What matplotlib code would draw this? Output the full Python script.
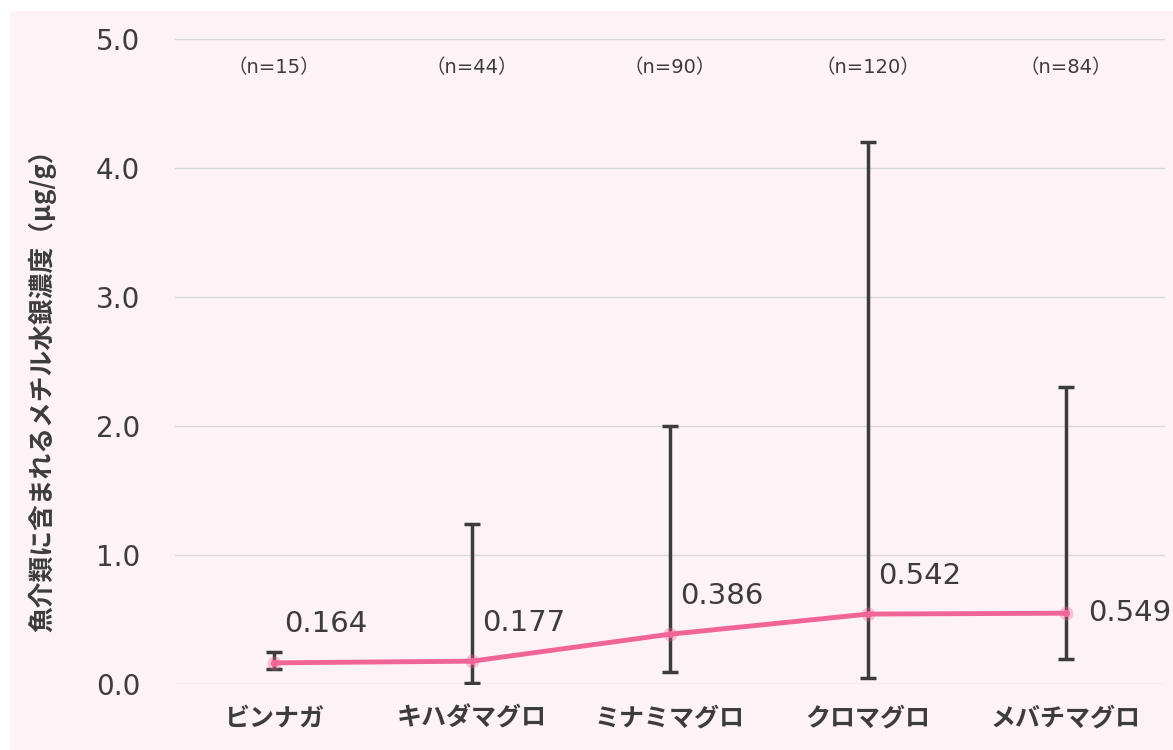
import matplotlib
matplotlib.use('agg')
import matplotlib.pyplot as plt
from matplotlib.patches import Rectangle

plt.rcParams['font.family'] = ['Noto Sans CJK JP', 'DejaVu Sans']

# data
fish = ['ビンナガ', 'キハダマグロ', 'ミナミマグロ', 'クロマグロ', 'メバチマグロ']
means = [0.164, 0.177, 0.386, 0.542, 0.549]
lows = [0.12, 0.01, 0.09, 0.05, 0.19]
highs = [0.25, 1.24, 2.0, 4.2, 2.3]
counts = ['（n=15）', '（n=44）', '（n=90）', '（n=120）', '（n=84）']
yticks = [0.0, 1.0, 2.0, 3.0, 4.0, 5.0]

bg = '#fdf2f5'
pink = '#f06496'
dark = '#3c3c3c'
num_font = ['DejaVu Sans', 'Noto Sans CJK JP']

fig = plt.figure(figsize=(11.73, 7.5), dpi=100)
fig.patches.append(Rectangle((10/1173, 0), 1, 1 - 11/750, transform=fig.transFigure,
                             facecolor=bg, edgecolor='none', zorder=-10))
ax = fig.add_axes([175/1173, 66/750, 990/1173, 645/750])
ax.set_facecolor('none')

x = list(range(len(fish)))
err_lo = [m - l for m, l in zip(means, lows)]
err_hi = [h - m for m, h in zip(means, highs)]

ax.errorbar(x, means, yerr=[err_lo, err_hi], fmt='none', ecolor=dark,
            elinewidth=2.5, capsize=6, capthick=2.5, zorder=3)
ax.plot(x, means, color=pink, lw=3.5, zorder=4)
ax.plot(x, means, 'o', ms=10, color=pink, alpha=0.35, mec='none', zorder=5)
ax.plot(x, means, 'o', ms=5, color=pink, mec='none', zorder=6)

for i, m in enumerate(means):
    if i == len(means) - 1:
        ax.annotate(f'{m:.3f}', (i, m), xytext=(16, 0), textcoords='offset points',
                    ha='left', va='center', fontsize=21, color=dark, family=num_font)
    else:
        ax.annotate(f'{m:.3f}', (i, m), xytext=(7, 22), textcoords='offset points',
                    ha='left', va='baseline', fontsize=21, color=dark, family=num_font)

for i, c in enumerate(counts):
    ax.text(i, 4.775, c, ha='center', va='center', fontsize=14, color=dark,
            family=num_font)

ax.set_xlim(-0.5, 4.5)
ax.set_ylim(0, 5.0)
ax.set_yticks(yticks)
ax.set_yticklabels([f'{v:.1f}' for v in yticks], fontsize=20, color=dark,
                   family=num_font)
ax.set_xticks(x)
ax.set_xticklabels(fish, fontsize=18, color=dark, fontweight='bold')
ax.tick_params(length=0)
ax.tick_params(axis='y', pad=25)
ax.tick_params(axis='x', pad=16)
ax.grid(axis='y', color='#d8d8d8', lw=1)
ax.set_axisbelow(True)
for s in ax.spines.values():
    s.set_visible(False)

ax.set_ylabel('魚介類に含まれるメチル水銀濃度（μg/g）', fontsize=18.5, color=dark,
              fontweight='bold', va='center')
ax.yaxis.set_label_coords(-0.134, 0.464)

fig.savefig('out.png', dpi=100)
